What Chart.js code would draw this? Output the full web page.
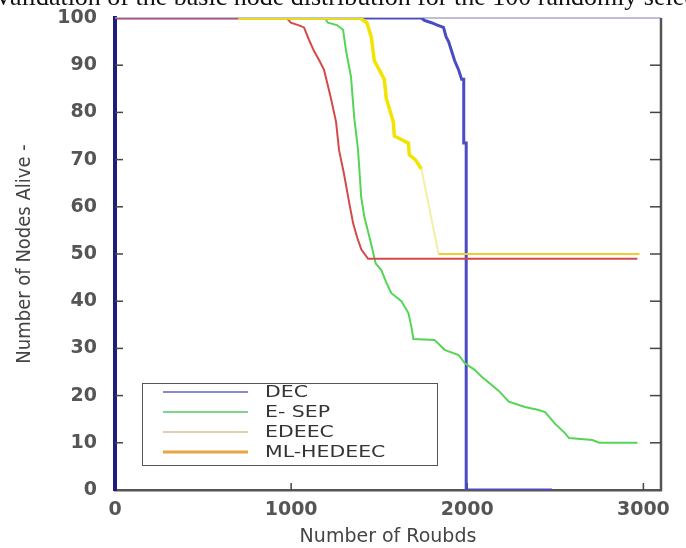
<!DOCTYPE html>
<html>
<head>
<meta charset="utf-8">
<script src="https://cdn.jsdelivr.net/npm/chart.js@4.4.0/dist/chart.umd.min.js"></script>
<style>
  html, body { margin: 0; padding: 0; background: #fff; }
  #wrap { position: relative; width: 686px; height: 548px; overflow: hidden; }
  #cap { position: absolute; left: -6px; top: -18px; white-space: nowrap;
         font-family: 'Liberation Serif', serif; font-size: 26px; color: #111; }
  canvas { position: absolute; left: 0; top: 0; }
</style>
</head>
<body>
<div id="wrap">
  <canvas id="c" width="686" height="548"></canvas>
  <div id="cap">Validation of the basic node distribution for the 100 randomly selected</div>
</div>
<script>
// ---- data ----
const seriesNames = ['DEC', 'E- SEP', 'EDEEC', 'ML-HEDEEC'];
const xTicks = [0, 1000, 2000, 3000];
const yTicks = [0, 10, 20, 30, 40, 50, 60, 70, 80, 90, 100];

const decX = [0, 1740, 1757, 1797, 1830, 1865, 1880, 1894, 1911, 1928, 1951, 1968, 1980, 1980, 1994, 1994, 2481];
const decY = [100, 100, 99.5, 99, 98.5, 98, 96, 95, 93, 91, 89, 87, 87, 73.5, 73.5, 0, 0];

const esepX = [0, 1190, 1209, 1260, 1295, 1312, 1340, 1358, 1380, 1398, 1415, 1455, 1480, 1512, 1540, 1569, 1626, 1666, 1683, 1694, 1814, 1871, 1951, 1985, 2040, 2082, 2130, 2179, 2236, 2327, 2400, 2442, 2499, 2556, 2578, 2710, 2750, 2966];
const esepY = [100, 100, 99, 98.5, 97.5, 93, 87.5, 79, 72, 62, 58, 52, 48, 46.6, 44, 41.7, 40, 37.5, 34.5, 32, 31.8, 29.7, 28.6, 26.9, 25.5, 24, 22.5, 21, 18.7, 17.6, 17, 16.5, 14, 12, 11, 10.6, 10, 10];

const edeecX = [0, 975, 998, 1040, 1073, 1100, 1130, 1160, 1187, 1226, 1255, 1272, 1300, 1329, 1352, 1375, 1398, 1437, 2966];
const edeecY = [100, 100, 99, 98.5, 98, 95.5, 93, 91, 89, 83, 78, 72, 67, 61, 56.5, 53.5, 51, 49, 49];

const mlX = [700, 1390, 1430, 1455, 1472, 1529, 1540, 1580, 1586, 1666, 1671, 1705, 1740, 1837, 2978];
const mlY = [100, 100, 99, 96, 91, 87, 83, 78, 75, 73.5, 71, 70, 68, 50, 50];

// ---- styles ----
const lineColors = ['#4b4bc4', '#55d455', '#d44a4a', '#f2e400'];
const legendColors = ['#6464b4', '#55c865', '#dcbc94', '#eaa444'];

function pts(xs, ys) { return xs.map((x, i) => ({ x: x, y: ys[i] })); }

const framePlugin = {
  id: 'frame',
  beforeDatasetsDraw(chart) {
    const { ctx, chartArea: { left, right, top, bottom }, scales: { x, y } } = chart;
    const line = (a, b, c, d) => { ctx.beginPath(); ctx.moveTo(a, b); ctx.lineTo(c, d); ctx.stroke(); };
    ctx.save();
    ctx.strokeStyle = '#a8a8c8'; ctx.lineWidth = 1.5; line(left, top, right, top);
    ctx.strokeStyle = '#555'; ctx.lineWidth = 2.5; line(right, top, right, bottom + 1);
    ctx.strokeStyle = '#444'; ctx.lineWidth = 1.5;
    y.ticks.forEach(t => {
      const py = y.getPixelForValue(t.value);
      if (t.value > 0 && t.value < 100) { line(left, py, left + 8, py); line(right - 11, py, right, py); }
    });
    x.ticks.forEach(t => {
      const px = x.getPixelForValue(t.value);
      if (t.value > 0) line(px, bottom, px, bottom - 7);
    });
    ctx.restore();
  }
};

const legendPlugin = {
  id: 'boxLegend',
  afterDatasetsDraw(chart) {
    const { ctx, chartArea: { left, bottom } } = chart;
    const bx = left + 27, by = bottom - 107, bw = 295, bh = 82;
    ctx.save();
    ctx.fillStyle = '#fff';
    ctx.fillRect(bx, by, bw, bh);
    ctx.strokeStyle = '#555'; ctx.lineWidth = 1;
    ctx.strokeRect(bx + 0.5, by + 0.5, bw, bh);
    chart.data.datasets.forEach((ds, i) => {
      const ry = by + 9 + i * 20;
      ctx.strokeStyle = legendColors[i];
      ctx.lineWidth = i === 3 ? 3 : 1.5;
      ctx.beginPath(); ctx.moveTo(bx + 21, ry); ctx.lineTo(bx + 106, ry); ctx.stroke();
      ctx.save();
      ctx.translate(bx + 123, ry + 1);
      ctx.scale(1.28, 1);
      ctx.fillStyle = '#333';
      ctx.font = '16px "DejaVu Sans"';
      ctx.textBaseline = 'middle';
      ctx.fillText(ds.label, 0, 0);
      ctx.restore();
    });
    ctx.restore();
  }
};

new Chart(document.getElementById('c'), {
  type: 'line',
  data: {
    datasets: [
      { label: seriesNames[0], data: pts(decX, decY), borderColor: lineColors[0], borderWidth: 3, order: 4 },
      { label: seriesNames[1], data: pts(esepX, esepY), borderColor: lineColors[1], borderWidth: 2, order: 3 },
      { label: seriesNames[2], data: pts(edeecX, edeecY), borderColor: lineColors[2], borderWidth: 2, order: 2 },
      { label: seriesNames[3], data: pts(mlX, mlY), borderColor: lineColors[3], borderWidth: 3.5, order: 1,
        segment: {
          borderColor: c => (c.p0.parsed.y <= 68.5 && c.p0.parsed.y > 50) ? '#f3f0a6' : (c.p0.parsed.y === 50 ? '#f2cc30' : undefined),
          borderWidth: c => (c.p0.parsed.y <= 68.5 ? 2 : undefined)
        } }
    ]
  },
  options: {
    responsive: false,
    animation: false,
    elements: { point: { radius: 0 }, line: { tension: 0 } },
    layout: { padding: { top: 18, right: 25, left: 0, bottom: 0 } },
    plugins: { legend: { display: false }, tooltip: { enabled: false } },
    scales: {
      x: {
        type: 'linear', min: 0, max: 3100,
        afterBuildTicks: s => { s.ticks = xTicks.map(v => ({ value: v })); },
        afterFit: s => { s.height = 58; s.paddingLeft = 0; s.paddingRight = 0; },
        grid: { display: false, drawTicks: false },
        border: { display: true, color: '#555', width: 2.5 },
        ticks: { color: '#555', padding: 9, font: { family: 'DejaVu Sans', size: 19, weight: 'bold' }, maxRotation: 0,
                 callback: v => String(v) },
        title: { display: true, text: 'Number of Roubds', color: '#444',
                 font: { family: 'DejaVu Sans', size: 19, lineHeight: 1 }, padding: { top: 0, bottom: 1 } }
      },
      y: {
        type: 'linear', min: 0, max: 100,
        afterBuildTicks: s => { s.ticks = yTicks.map(v => ({ value: v })); },
        afterFit: s => { s.width = 115; s.paddingTop = 0; s.paddingBottom = 0; },
        grid: { display: false, drawTicks: false },
        border: { display: true, color: '#1e1e7a', width: 4 },
        ticks: { color: '#555', padding: 18, font: { family: 'DejaVu Sans', size: 19, weight: 'bold' },
                 callback: v => String(v) },
        title: { display: true, text: 'Number of Nodes Alive -', color: '#444',
                 font: { family: "'Liberation Sans Narrow', 'DejaVu Sans Condensed', sans-serif", size: 20, lineHeight: 1 },
                 padding: { top: 15, bottom: 0 } }
      }
    }
  },
  plugins: [framePlugin, legendPlugin]
});
</script>
</body>
</html>
